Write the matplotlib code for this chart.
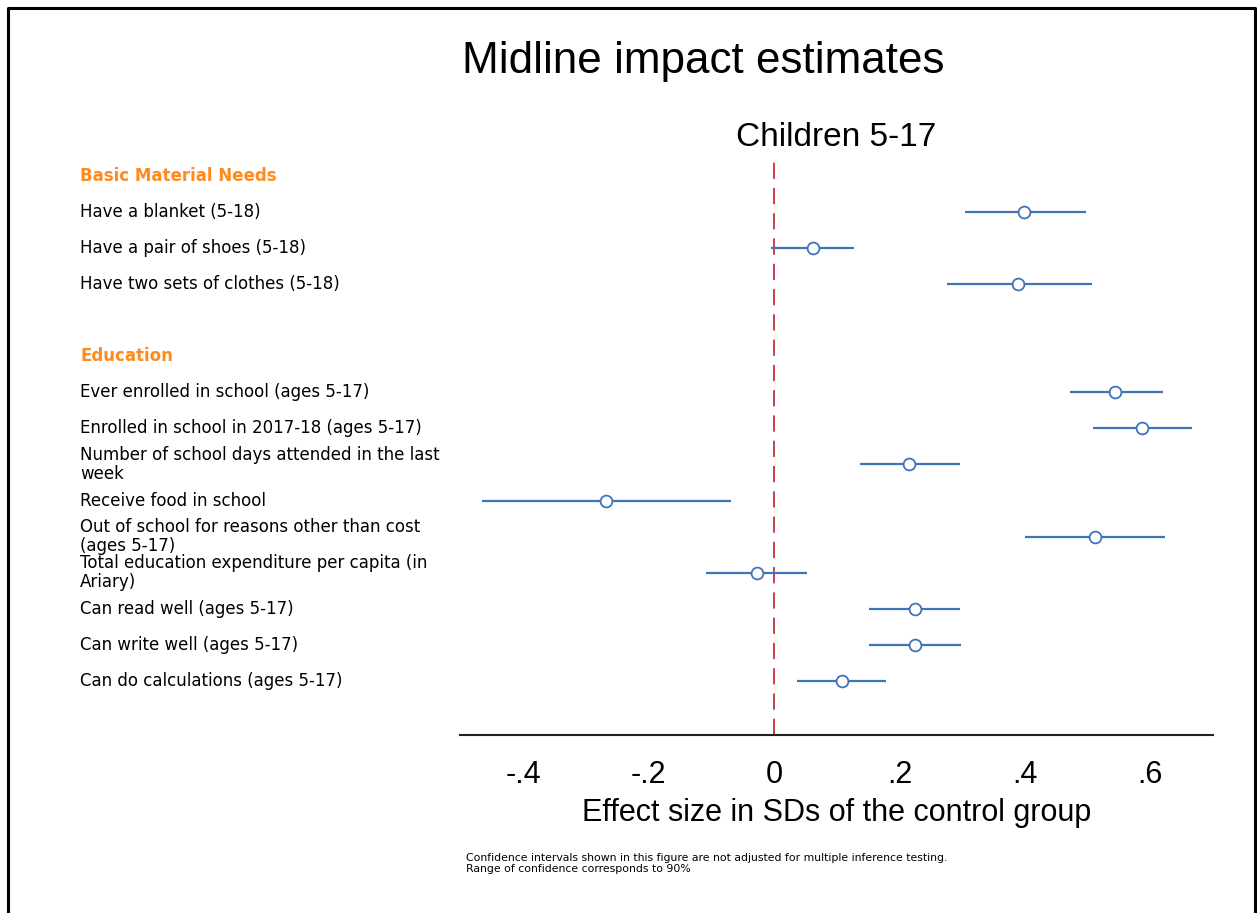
import matplotlib
matplotlib.use("Agg")
import matplotlib.pyplot as plt
import matplotlib.transforms as mtrans
from matplotlib.lines import Line2D

plt.rcParams['font.family'] = ['Liberation Sans', 'DejaVu Sans']

# rows top to bottom; empty string = blank row
labels = ["Basic Material Needs",
          "Have a blanket (5-18)",
          "Have a pair of shoes (5-18)",
          "Have two sets of clothes (5-18)",
          "",
          "Education",
          "Ever enrolled in school (ages 5-17)",
          "Enrolled in school in 2017-18 (ages 5-17)",
          "Number of school days attended in the last\nweek",
          "Receive food in school",
          "Out of school for reasons other than cost\n(ages 5-17)",
          "Total education expenditure per capita (in\nAriary)",
          "Can read well (ages 5-17)",
          "Can write well (ages 5-17)",
          "Can do calculations (ages 5-17)"]
headers = ["Basic Material Needs", "Education"]

est = [None, 0.399, 0.062, 0.389, None, None, 0.544, 0.587, 0.215, -0.268, 0.512, -0.027, 0.225, 0.225, 0.109]
lo = [None, 0.305, -0.005, 0.276, None, None, 0.472, 0.509, 0.137, -0.466, 0.400, -0.109, 0.152, 0.152, 0.037]
hi = [None, 0.498, 0.128, 0.507, None, None, 0.621, 0.667, 0.297, -0.069, 0.624, 0.053, 0.297, 0.298, 0.179]

ticks = [-0.4, -0.2, 0, 0.2, 0.4, 0.6]
tick_labels = ["-.4", "-.2", "0", ".2", ".4", ".6"]

blue = "#3f74b8"
fig = plt.figure(figsize=(12.57, 9.13), dpi=100)
ax = fig.add_axes([460 / 1257, 1 - 735 / 913, 753 / 1257, 575 / 913])

for i in range(len(labels)):
    if est[i] is None:
        continue
    ax.plot([lo[i], hi[i]], [i, i], color=blue, lw=1.6, solid_capstyle='butt', zorder=2)
    ax.plot(est[i], i, 'o', ms=8.5, mfc='white', mec=blue, mew=1.3, zorder=3)

ax.axvline(0, color="#c8303f", lw=1.3, ls=(0, (9, 5)), zorder=1)

ax.set_xlim(-0.501, 0.700)
ax.set_ylim(15.5, -0.44)
ax.set_yticks([])
ax.set_xticks(ticks)
ax.set_xticklabels(tick_labels, fontsize=22)
ax.tick_params(axis='x', length=0, pad=18)
for s in ['top', 'left', 'right']:
    ax.spines[s].set_visible(False)
ax.spines['bottom'].set_linewidth(1.5)
ax.spines['bottom'].set_color("#222222")
ax.set_xlabel("Effect size in SDs of the control group", fontsize=22, labelpad=6)
ax.set_title("Children 5-17", fontsize=24, pad=10)

tr = mtrans.blended_transform_factory(fig.transFigure, ax.transData)
for i, lab in enumerate(labels):
    if not lab:
        continue
    if lab in headers:
        ax.text(80 / 1257, i, lab, transform=tr, fontsize=12, fontweight='bold',
                family='DejaVu Sans', color="#ff8a1e", va='center', ha='left')
    else:
        ax.text(80 / 1257, i, lab, transform=tr, fontsize=12, family='DejaVu Sans',
                color="black", va='center', ha='left', linespacing=1.05)

fig.text(703 / 1257, 1 - 61 / 913, "Midline impact estimates", fontsize=31.7,
         ha='center', va='center')
fig.text(466 / 1257, 1 - 858 / 913, "Confidence intervals shown in this figure are not adjusted for multiple inference testing.",
         fontsize=7.8, family='DejaVu Sans', va='center', ha='left')
fig.text(466 / 1257, 1 - 869 / 913, "Range of confidence corresponds to 90%",
         fontsize=7.8, family='DejaVu Sans', va='center', ha='left')

# outer frame (left, top, right)
x0, x1, y1 = 8 / 1257, 1255 / 1257, 1 - 8 / 913
fig.add_artist(Line2D([x0, x0, x1, x1], [0, y1, y1, 0], transform=fig.transFigure,
                      color="black", lw=2.2))

fig.savefig("out.png", dpi=100, facecolor="white")
